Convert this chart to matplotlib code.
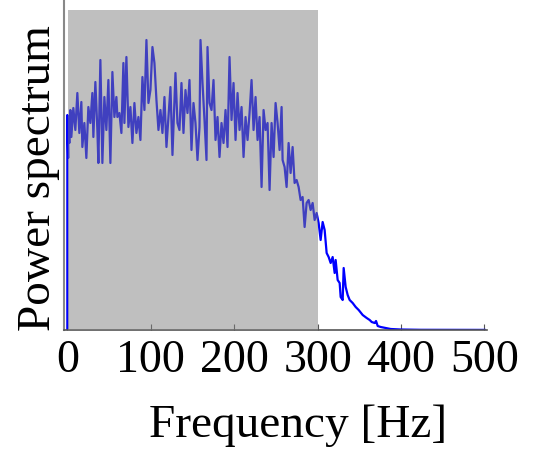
import matplotlib
matplotlib.use('Agg')
import matplotlib.pyplot as plt
from matplotlib.patches import Rectangle

# 读图得到的功率谱数据 (频率 Hz, 任意单位)
freq = [0, 0, 1, 1.2, 2.4, 3.6, 4.8, 7.2, 9.6, 12, 14.4, 16.8, 18, 20.4, 22.8, 25.2,
        27.6, 30, 31.2, 33.6, 36, 37.2, 39.6, 42, 44.4, 46.8, 49.2, 51.6, 54, 56.4,
        58.8, 60, 62.4, 64.8, 67.2, 68.4, 70.8, 73.2, 75.6, 78, 80.4, 82.8, 85.2,
        87.6, 90, 92.4, 94.8, 97.2, 99.6, 102, 104.4, 106.8, 109.2, 111.6, 114,
        116.4, 118.8, 121.2, 123.6, 126, 129.6, 132, 134.4, 136.8, 139.2, 141.6,
        144, 146.4, 148.8, 151.2, 153.6, 156, 158.4, 159.6, 162, 164.4, 166.8, 168,
        170.4, 172.8, 175.2, 177.6, 180, 182.4, 184.8, 187.2, 189.6, 192, 194.4,
        196.8, 199.2, 201.6, 204, 206.4, 208.8, 211.2, 213.6, 216, 218.4, 220.8,
        223.2, 225.6, 228, 230.4, 232.8, 235.2, 237.6, 240, 242.4, 244.8, 247.2,
        249.6, 252, 254.4, 256.8, 258, 260.4, 262.8, 265.2, 267.6, 270, 272.4,
        274.8, 277.2, 279.6, 282, 284.4, 286.8, 289.2, 291.6, 294, 296.4, 298.8,
        301.2, 303.6, 306, 308.4, 310.8, 313.2, 315.6, 318, 320.4, 321.6, 324,
        326.4, 327.6, 330, 331.2, 333.6, 336, 338.4, 342, 345.6, 349.2, 354, 358.8,
        362.4, 364.8, 368.4, 370, 372, 375.6, 381.6, 387.6, 399.6, 423.6, 500]
power = [0, 215, 172, 203, 187, 220, 193, 222, 200, 237, 197, 228, 183, 207, 172, 223,
         207, 237, 193, 248, 200, 167, 270, 167, 233, 200, 250, 167, 258, 213,
         233, 213, 217, 197, 267, 207, 273, 203, 223, 187, 227, 197, 213,
         190, 253, 220, 290, 227, 240, 283, 267, 230, 200, 220, 197,
         233, 183, 213, 243, 175, 257, 207, 200, 247, 197, 240,
         217, 250, 180, 227, 207, 170, 203, 290, 247, 210, 170, 283,
         227, 220, 250, 190, 213, 173, 207, 187, 220, 183, 273,
         210, 247, 190, 237, 200, 223, 173, 213, 190, 217, 250,
         200, 233, 190, 213, 143, 220, 200, 207, 140, 207, 173,
         227, 207, 180, 223, 170, 163, 143, 187, 157, 183, 147,
         150, 143, 130, 133, 103, 127, 130, 120, 127, 110, 117,
         107, 90, 108, 100, 77, 73, 67, 73, 57, 70, 50,
         47, 33, 30, 62, 43, 35, 30, 27, 23, 20, 15, 12,
         10, 8, 7, 9, 4, 3, 2, 1, 0.5, 0.2, 0.1]

band_lo, band_hi = 0.5, 300
band_top = 320

plt.rcParams['font.family'] = ['Liberation Serif', 'DejaVu Serif']

fig = plt.figure(figsize=(5.44, 4.53), dpi=100)
ax = fig.add_axes([64 / 544, 1 - 330 / 453, 423 / 544, 330 / 453])

ax.plot(freq, power, color='blue', linewidth=1.6, zorder=2)
ax.add_patch(Rectangle((band_lo, 0), band_hi - band_lo, band_top,
                       facecolor='gray', alpha=0.5, edgecolor='none', zorder=3))

ax.set_xlim(-4, 503)
ax.set_ylim(0, 330)
ax.set_xticks([0, 100, 200, 300, 400, 500])
ax.set_yticks([])
ax.tick_params(axis='x', direction='in', length=4, color='#555555',
               labelsize=33, pad=7)

for s in ['top', 'right']:
    ax.spines[s].set_visible(False)
ax.spines['left'].set_color('#888888')
ax.spines['left'].set_linewidth(1.5)
ax.spines['bottom'].set_color('#555555')
ax.spines['bottom'].set_linewidth(1.2)

ax.set_xlabel('Frequency [Hz]', fontsize=34)
ax.xaxis.set_label_coords(0.553, -0.227)
ax.set_ylabel('Power spectrum', fontsize=34)
ax.yaxis.set_label_coords(-0.01, 0.46)

fig.savefig('out.png', dpi=100)
